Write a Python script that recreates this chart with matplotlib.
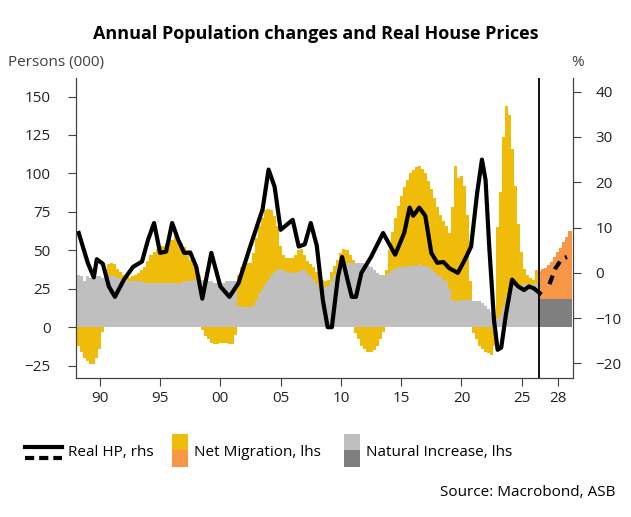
import numpy as np
import matplotlib
matplotlib.use("Agg")
import matplotlib.pyplot as plt
from matplotlib.patches import Rectangle
from matplotlib.lines import Line2D

plt.rcParams['font.family'] = ['Open Sans', 'DejaVu Sans']

# ── Dados (trimestrais, a partir de 1988.25) ─────────────────────────────
natural = [34, 33, 30,
           33, 32, 33, 33,  33, 32, 32, 33,  33, 33, 32, 32,  31, 31, 30, 30,
           30, 30, 30, 29,  29, 29, 29, 29,  29, 29, 29, 29,  29, 29, 28, 29,
           30, 30, 30, 31,  31, 31, 31, 31,  30, 30, 29, 29,  29, 29, 30, 30,
           30, 30, 14, 13,  13, 13, 13, 14,  18, 22, 25, 28,  31, 34, 36, 38,
           37, 37, 36, 36,  35, 35, 36, 37,  37, 35, 33, 31,  28, 25, 25, 26,
           27, 30, 34, 38,  40, 41, 42, 42,  42, 42, 42, 42,  41, 40, 39, 37,
           35, 34, 34, 34,  35, 37, 38, 39,  39, 39, 40, 40,  40, 40, 41, 40,
           40, 39, 38, 36,  34, 33, 31, 30,  25, 18, 17, 17,  18, 18, 18, 18,
           17, 17, 17, 16,  14, 12, 10, 8,   5, 8, 14, 20,   24, 26, 27, 27,
           27, 28, 28, 28,  28, 28]
migracao = [-12, -16, -20,
            -22, -24, -24, -20,  -14, -3, 6, 8,  9, 8, 6, 4,  3, 2, 2, 3,
            4, 5, 7, 10,  14, 18, 20, 22,  24, 24, 26, 28,  28, 30, 28, 26,
            22, 18, 14, 10,  6, 3, -2, -6,  -8, -10, -11, -11,  -10, -10, -10, -11,
            -11, -5, 20, 26,  28, 29, 29, 34,  40, 44, 46, 48,  46, 42, 36, 28,
            16, 10, 9, 9,  10, 12, 14, 14,  10, 8, 8, 8,  8, 8, 6, 4,
            4, 6, 6, 6,  8, 10, 8, 5,  2, -4, -8, -12,  -14, -16, -16, -15,
            -12, -8, -3, 3,  15, 25, 33, 40,  46, 52, 56, 60,  62, 64, 64, 63,
            60, 56, 52, 48,  44, 40, 38, 36,  36, 60, 88, 80,  80, 74, 55, 12,
            -4, -8, -12, -14,  -16, -17, -18, -12,  60, 80, 110, 124,  114, 90, 65, 40,
            22, 10, 6, 4,  3, 9]
# previsão 2026.5 – 2029.0
natural_prev = [18.6] * 11
migracao_prev = [18, 19, 20, 22, 24, 27, 30, 33, 37, 40, 44]

# preço real das casas (% a/a, eixo direito)
hp_t = [1988.25, 1989.0, 1989.5, 1989.75, 1990.25, 1990.75, 1991.25, 1992.0, 1992.75,
        1993.5, 1994.0, 1994.5, 1995.0, 1995.5, 1996.0, 1996.5, 1997.0, 1997.5, 1998.0,
        1998.5, 1999.25, 2000.0, 2000.75, 2001.5, 2002.5, 2003.5, 2004.0, 2004.5, 2005.0,
        2005.5, 2006.0, 2006.5, 2007.0, 2007.5, 2008.0, 2008.5, 2008.9, 2009.25, 2009.75,
        2010.1, 2010.5, 2010.9, 2011.25, 2011.7, 2012.5, 2013.5, 2014.5, 2015.25, 2015.7,
        2016.0, 2016.5, 2017.0, 2017.5, 2018.0, 2018.5, 2019.0, 2019.7, 2020.3, 2020.8,
        2021.3, 2021.7, 2022.0, 2022.3, 2022.7, 2023.0, 2023.3, 2023.7, 2024.2, 2024.7,
        2025.2, 2025.6, 2026.0, 2026.5]
hp_v = [8.8, 2.2, -1, 3, 2, -3, -5.3, -1.5, 1.3,
        2.5, 7.3, 11, 4.4, 4.7, 11, 7.3, 4.4, 4.5, 1.3,
        -5.7, 4.4, -3, -5.3, -2.3, 6, 14, 22.8, 19, 9.5,
        10.6, 11.7, 5.8, 6.3, 11, 6, -6, -12, -12, -1,
        3.5, -1, -5.3, -5.3, 0, 3.5, 8.8, 4, 8.8, 14.4,
        12.6, 14.4, 12.6, 4.4, 2.2, 2.4, 1, 0, 3, 5.8,
        17.6, 25, 20.5, 6, -10.4, -17, -16.5, -9, -1.5, -3,
        -3.8, -3, -3.4, -4.5]
hp_prev_t = [2027.3, 2027.8, 2028.3, 2028.75]
hp_prev_v = [-2.5, 1, 3, 3.5]

# ── Gráfico ──────────────────────────────────────────────────────────────
AMARELO, LARANJA = "#F0BC0A", "#F79646"
CINZA, CINZA_ESC = "#BFBFBF", "#7F7F7F"

t = 1988.25 + 0.25 * np.arange(len(natural))
tp = t[-1] + 0.25 + 0.25 * np.arange(len(natural_prev))
nat = np.array(natural, float)
mig = np.array(migracao, float)

fig = plt.figure(figsize=(6.31, 5.17), dpi=100)
ax = fig.add_axes([0.120, 0.269, 0.788, 0.580])
w = 0.26
ax.bar(t, nat, width=w, color=CINZA, linewidth=0)
ax.bar(t, np.where(mig > 0, mig, mig), bottom=np.where(mig > 0, nat, 0),
       width=w, color=AMARELO, linewidth=0)
ax.bar(tp, natural_prev, width=w, color=CINZA_ESC, linewidth=0)
ax.bar(tp, migracao_prev, bottom=natural_prev, width=w, color=LARANJA, linewidth=0)

ax.set_xlim(1988.0, 2029.25)
ax.set_ylim(-33, 162)
ax.set_yticks([-25, 0, 25, 50, 75, 100, 125, 150])
xt = [1990, 1995, 2000, 2005, 2010, 2015, 2020, 2025, 2028]
ax.set_xticks(xt)
ax.set_xticklabels([f"{x % 100:02d}" for x in xt])
ax.axvline(2026.4, color="black", linewidth=1.3)

ax2 = ax.twinx()
ax2.plot(hp_t, hp_v, color="black", linewidth=3, solid_joinstyle="round")
ax2.plot(hp_prev_t, hp_prev_v, color="black", linewidth=3, linestyle=(0, (2.2, 1.6)))
ax2.set_ylim(-23.2, 43)
ax2.set_yticks([-20, -10, 0, 10, 20, 30, 40])

for a in (ax, ax2):
    a.spines["top"].set_visible(False)
    for s in a.spines.values():
        s.set_color("#404040")
    a.tick_params(labelsize=11, length=6, color="#404040", labelcolor="#222222")
ax.tick_params(axis="y", pad=12)
ax2.tick_params(axis="y", pad=10)

fig.text(0.5, 0.925, "Annual Population changes and Real House Prices",
         ha="center", fontsize=13, fontweight="bold")
fig.text(0.012, 0.872, "Persons (000)", fontsize=11, color="#404040")
fig.text(0.905, 0.872, "%", fontsize=11, color="#404040")

# ── Legenda manual ───────────────────────────────────────────────────────
def px(x, y):
    return x / 631, 1 - y / 517

x0, y0 = px(25, 447); x1, _ = px(62, 447)
fig.add_artist(Line2D([x0, x1], [y0, y0], color="black", linewidth=3))
_, y1 = px(0, 458)
fig.add_artist(Line2D([x0, x1], [y1, y1], color="black", linewidth=3,
                      linestyle=(0, (2.2, 1.2))))
fig.text(*px(68, 452), "Real HP, rhs", fontsize=11, va="center")
for xb, c1, c2, lab in [(172, AMARELO, LARANJA, "Net Migration, lhs"),
                        (344, CINZA, CINZA_ESC, "Natural Increase, lhs")]:
    fig.add_artist(Rectangle(px(xb, 450), 16 / 631, 16 / 517, color=c1, linewidth=0))
    fig.add_artist(Rectangle(px(xb, 467), 16 / 631, 17 / 517, color=c2, linewidth=0))
    fig.text(*px(xb + 22, 452), lab, fontsize=11, va="center")

fig.text(0.975, 0.04, "Source: Macrobond, ASB", ha="right", fontsize=11)

fig.savefig("out.png", dpi=100)
